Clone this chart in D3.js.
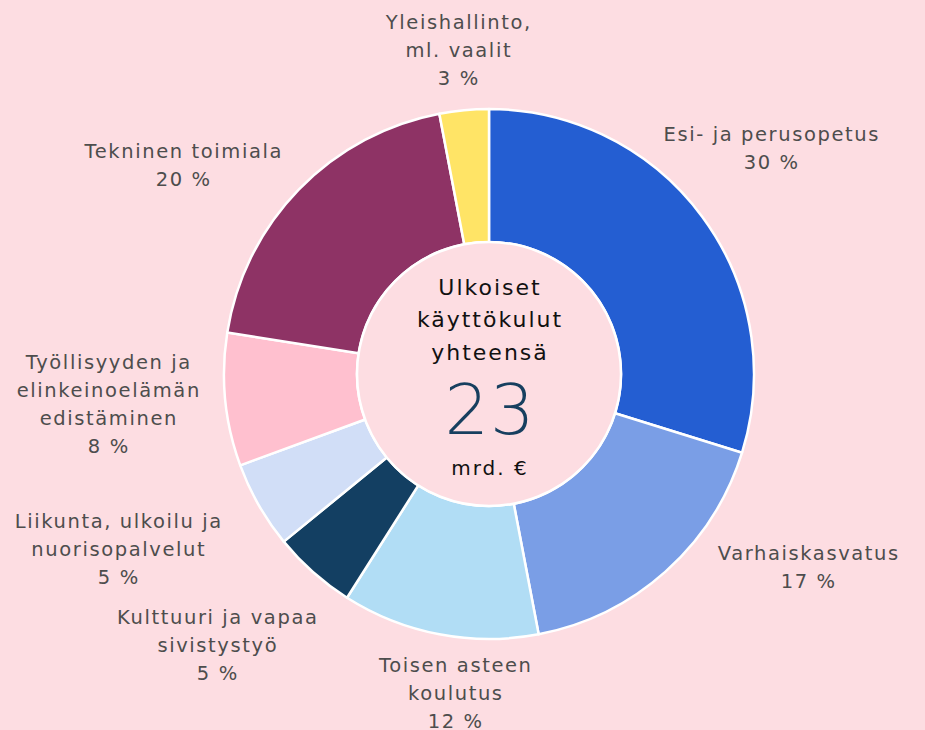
<!DOCTYPE html>
<html>
<head>
<meta charset="utf-8">
<script src="https://cdn.jsdelivr.net/npm/d3@7"></script>
<style>
  html, body { margin: 0; padding: 0; background: #fddde2; }
  #chart { width: 925px; height: 730px; }
</style>
</head>
<body>
<div id="chart"></div>
<script>
// data
const categories = [
  "Esi- ja perusopetus",
  "Varhaiskasvatus",
  "Toisen asteen koulutus",
  "Kulttuuri ja vapaa sivistystyö",
  "Liikunta, ulkoilu ja nuorisopalvelut",
  "Työllisyyden ja elinkeinoelämän edistäminen",
  "Tekninen toimiala",
  "Yleishallinto, ml. vaalit"
];
const shares = [29.8, 17.2, 12.0, 5.1, 5.3, 8.1, 19.5, 3.0];
const labelLines = [
  ["Esi- ja perusopetus"],
  ["Varhaiskasvatus"],
  ["Toisen asteen", "koulutus"],
  ["Kulttuuri ja vapaa", "sivistystyö"],
  ["Liikunta, ulkoilu ja", "nuorisopalvelut"],
  ["Työllisyyden ja", "elinkeinoelämän", "edistäminen"],
  ["Tekninen toimiala"],
  ["Yleishallinto,", "ml. vaalit"]
];
const colors = ["#245ed2", "#7a9ee6", "#b1ddf5", "#133f62", "#d1def7", "#ffc0cf", "#8e3365", "#ffe466"];
const centerLines = ["Ulkoiset", "käyttökulut", "yhteensä"];
const total = "23";
const unit = "mrd. €";

// layout: label anchor (center x, first line y)
const labelPos = [
  [771, 134], [808, 553], [455, 665], [217, 617],
  [118, 521], [108, 362], [183, 151], [458, 22]
];

const width = 925, height = 730;
const cx = 489, cy = 374;
const outerR = 265, innerR = 132;
const lineH = 28;

const svg = d3.select("#chart")
  .append("svg")
  .attr("width", width)
  .attr("height", height)
  .attr("viewBox", `0 0 ${width} ${height}`);

svg.append("rect")
  .attr("width", width)
  .attr("height", height)
  .attr("fill", "#fddde2");

const g = svg.append("g")
  .attr("transform", `translate(${cx},${cy})`);

const pie = d3.pie().sort(null).value(d => d);
const arc = d3.arc().innerRadius(innerR).outerRadius(outerR);

const arcs = pie(shares);

g.selectAll("path")
  .data(arcs)
  .join("path")
  .attr("d", arc)
  .attr("fill", (d, i) => colors[i])
  .attr("stroke", "#ffffff")
  .attr("stroke-width", 2.5)
  .attr("stroke-linejoin", "round");

// inner circle
g.append("circle")
  .attr("r", innerR)
  .attr("fill", "#fddde2")
  .attr("stroke", "#ffffff")
  .attr("stroke-width", 2.5);

// slice labels
const labels = svg.append("g")
  .attr("font-family", "'DejaVu Sans', sans-serif")
  .attr("font-size", 19.5)
  .attr("letter-spacing", 1.6)
  .attr("fill", "#4d4d4d")
  .attr("text-anchor", "middle");

arcs.forEach((a, i) => {
  const lines = labelLines[i].concat([Math.round(shares[i]) + " %"]);
  const t = labels.append("text")
    .attr("x", labelPos[i][0])
    .attr("y", labelPos[i][1])
    .attr("dominant-baseline", "central");
  lines.forEach((l, j) => {
    t.append("tspan")
      .attr("x", labelPos[i][0] + 0.8)
      .attr("y", labelPos[i][1] + j * lineH)
      .text(l);
  });
});

// center text
const center = g.append("g")
  .attr("font-family", "'DejaVu Sans', sans-serif")
  .attr("text-anchor", "middle");

centerLines.forEach((l, j) => {
  center.append("text")
    .attr("x", 1)
    .attr("y", -87 + j * 32.5)
    .attr("dominant-baseline", "central")
    .attr("font-size", 22)
    .attr("letter-spacing", 2)
    .attr("fill", "#111111")
    .text(l);
});

center.append("text")
  .attr("x", 1)
  .attr("y", 36)
  .attr("dominant-baseline", "central")
  .attr("font-size", 70)
  .attr("font-weight", 300)
  .attr("letter-spacing", 1)
  .attr("fill", "#173f5f")
  .text(total);

center.append("text")
  .attr("x", 1)
  .attr("y", 94)
  .attr("dominant-baseline", "central")
  .attr("font-size", 20)
  .attr("letter-spacing", 2)
  .attr("fill", "#111111")
  .text(unit);
</script>
</body>
</html>
